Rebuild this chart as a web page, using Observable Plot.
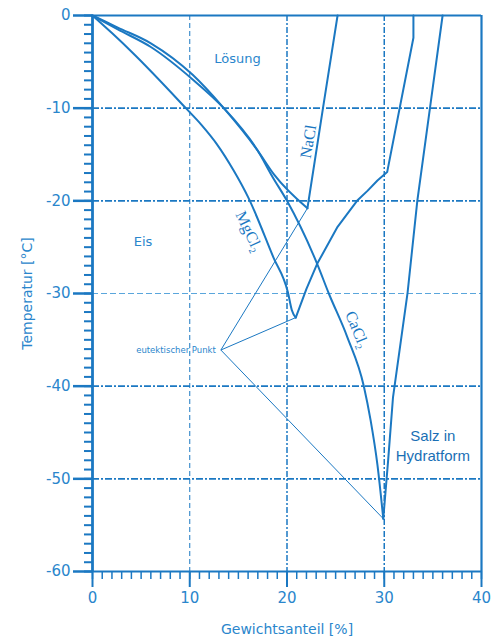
<!DOCTYPE html>
<html><head><meta charset="utf-8">
<script src="https://cdn.jsdelivr.net/npm/d3@7"></script>
<script src="https://cdn.jsdelivr.net/npm/@observablehq/plot@0.6"></script>
<style>body{margin:0;background:#fff} svg{display:block}</style>
</head><body><div id="chart"></div>
<script>
// NaCl: ice curve and solubility line
const naclIceX = [0, 2.6, 6.0, 10.3, 13.5, 17.0, 18.7, 22.1];
const naclIceY = [0, -1.3, -3.0, -6.4, -10, -14.6, -17.2, -20.8];
const naclSolX = [22.1, 23.7, 25.2];
const naclSolY = [-20.8, -10, 0];
// MgCl2
const mgIceX = [0, 2.0, 4.2, 9.6, 11.2, 12.8, 14.5, 16.0, 18.6, 20.1, 20.5, 20.9];
const mgIceY = [0, -1.9, -4.1, -10, -11.8, -13.9, -16.7, -19.6, -26.1, -29.9, -31.8, -32.6];
const mgSolX = [20.9, 22.0, 23.1, 25.2, 27.2, 28.3, 29.3, 30.3, 33.0, 33.0];
const mgSolY = [-32.6, -29.5, -26.8, -22.8, -20, -18.9, -17.8, -16.9, -2.4, 0];
// CaCl2
const caIceX = [0, 2.6, 6.0, 10.3, 13.5, 17.0, 18.5, 20.0, 23.1, 24.3, 26.2, 27.9, 28.6, 29.3, 29.9];
const caIceY = [0, -1.5, -3.4, -6.9, -10, -14.6, -17.4, -20, -26.8, -30, -34.7, -40, -43.7, -48.5, -54.3];
const caSolX = [29.9, 30.4, 30.9, 32.4, 33.4, 34.7, 36.0];
const caSolY = [-54.3, -48.0, -41.2, -29.9, -20, -10, 0];
// eutectic pointer
const eutLabelPoint = {x: 13.2, y: -36.1};
const eutX = [22.1, 20.9, 29.9];
const eutY = [-20.8, -32.6, -54.3];
// grid / ticks
const gridY = [-10, -20, -30, -40, -50];
const gridX = [10, 20, 30];
const majorY = [0, -10, -20, -30, -40, -50, -60];
const majorX = [0, 10, 20, 30, 40];

const blue = "#1b78c2";
const tblue = "#2a86cc";
const pts = (xs, ys) => xs.map((x, i) => ({x, y: ys[i]}));

const eutLines = eutX.map((x, i) => ({x1: eutLabelPoint.x, y1: eutLabelPoint.y, x2: x, y2: eutY[i]}));

const labels = [
  {x: 14.9, y: -4.7, t: "Lösung"},
  {x: 5.2, y: -24.4, t: "Eis"}
];
const saltLabels = [
  {x: 22.2, y: -13.6, t: "NaCl", rot: -80},
  {x: 16.1, y: -23.3, t: "MgCl₂", rot: 65},
  {x: 27.2, y: -33.9, t: "CaCl₂", rot: 68}
];

const chart = Plot.plot({
  width: 491, height: 642,
  marginLeft: 92, marginRight: 10, marginTop: 15, marginBottom: 71,
  x: {domain: [0, 40]},
  y: {domain: [-60, 0]},
  style: {fontFamily: "'DejaVu Sans', sans-serif", color: blue, background: "#fff"},
  marks: [
    Plot.ruleY(gridY.filter(d => d !== -30), {stroke: blue, strokeWidth: 1.6, strokeDasharray: "7,2,2,2"}),
    Plot.ruleY([-30], {stroke: "#5aa6dc", strokeWidth: 1, strokeDasharray: "6,3"}),
    Plot.ruleX([10], {stroke: blue, strokeWidth: 1, strokeDasharray: "5,3"}),
    Plot.ruleX([20, 30], {stroke: blue, strokeWidth: 1.5, strokeDasharray: "6,2,2,2"}),
    Plot.ruleY([0], {stroke: blue, strokeWidth: 2.2}),
    Plot.ruleX([40], {stroke: blue, strokeWidth: 2.2}),
    Plot.ruleX([0], {stroke: blue, strokeWidth: 2.8}),
    Plot.ruleY([-60], {stroke: blue, strokeWidth: 2.2}),
    Plot.axisY(d3.range(-60, 1), {tickSize: 8, strokeWidth: 2, tickFormat: () => "", label: null}),
    Plot.axisY(majorY, {tickSize: 19, strokeWidth: 2.5, tickPadding: 3, tickFormat: d => String(d), fontSize: 15, fill: tblue, label: null}),
    Plot.axisX(d3.range(0, 41), {tickSize: 8, strokeWidth: 1.5, tickFormat: () => "", label: null}),
    Plot.axisX(majorX, {tickSize: 16, strokeWidth: 2, tickPadding: 5, tickFormat: d => String(d), fontSize: 15, fill: tblue, label: null}),
    Plot.text(["Temperatur [°C]"], {frameAnchor: "left", dx: -65, rotate: -90, textAnchor: "middle", fontSize: 14, fill: tblue}),
    Plot.text(["Gewichtsanteil [%]"], {frameAnchor: "bottom", dy: 62, textAnchor: "middle", fontSize: 14, fill: tblue}),
    // thin eutectic lines
    Plot.link(eutLines, {x1: "x1", y1: "y1", x2: "x2", y2: "y2", stroke: blue, strokeWidth: 1}),
    Plot.text([eutLabelPoint], {x: "x", y: "y", text: () => "eutektischer Punkt", textAnchor: "end", dx: -5, fontSize: 8.5, fill: tblue}),
    // curves
    Plot.line(pts(naclIceX, naclIceY), {x: "x", y: "y", stroke: blue, strokeWidth: 2, curve: "monotone-x"}),
    Plot.line(pts(naclSolX, naclSolY), {x: "x", y: "y", stroke: blue, strokeWidth: 2}),
    Plot.line(pts(mgIceX, mgIceY), {x: "x", y: "y", stroke: blue, strokeWidth: 2, curve: "monotone-x"}),
    Plot.line(pts(mgSolX, mgSolY), {x: "x", y: "y", stroke: blue, strokeWidth: 2}),
    Plot.line(pts(caIceX, caIceY), {x: "x", y: "y", stroke: blue, strokeWidth: 2, curve: "monotone-x"}),
    Plot.line(pts(caSolX, caSolY), {x: "x", y: "y", stroke: blue, strokeWidth: 2}),
    // labels
    Plot.text(labels, {x: "x", y: "y", text: "t", fontSize: 13, fill: tblue}),
    Plot.text(saltLabels, {x: "x", y: "y", text: "t", rotate: "rot", fontSize: 16, fill: blue, fontFamily: "'Liberation Serif', serif"}),
    Plot.text([{x: 35.0, y: -45.4, t: "Salz in"}, {x: 35.0, y: -47.6, t: "Hydratform"}],
      {x: "x", y: "y", text: "t", fontSize: 15, fill: "#1a6fb5", fontFamily: "'Liberation Sans', sans-serif"})
  ]
});
document.getElementById("chart").appendChild(chart);
</script></body></html>
